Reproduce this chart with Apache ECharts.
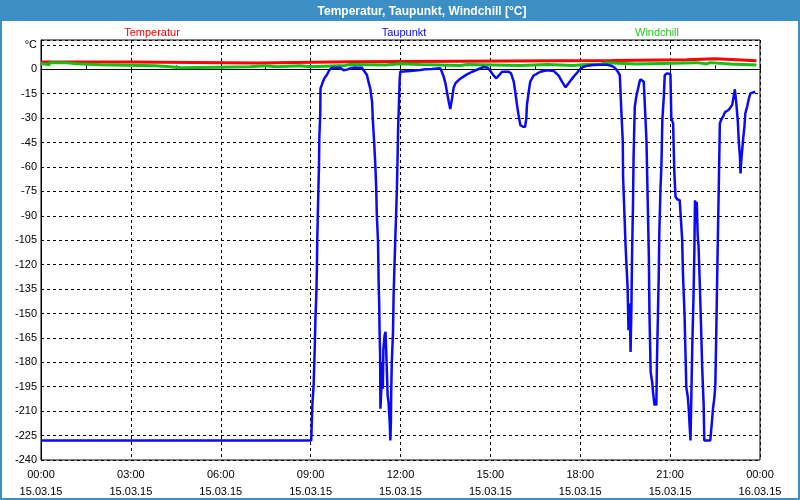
<!DOCTYPE html>
<html>
<head>
<meta charset="utf-8">
<script src="https://cdn.jsdelivr.net/npm/echarts@6/dist/echarts.min.js"></script>
<style>html,body{margin:0;padding:0;background:#fff}#c{width:800px;height:500px}</style>
</head>
<body>
<div id="c"></div>
<script>
// Hours since 15.03.15 00:00, values in °C
var seriesNames = ['Temperatur', 'Taupunkt', 'Windchill'];
var xTickHours = [0, 3, 6, 9, 12, 15, 18, 21, 24];
var yTickLabelTop = '°C';

var temperatur = [[0,4.5],[3.0,3.9],[7.2,4.7],[10.35,5.4],[19.05,5.9],[21.55,6.5],[22.5,5.9],[23.2,5.3],[23.88,5.3]];

var windchill = [[0,3.4],[0.08,2.8],[0.28,4.1],[0.8,3.4],[1.19,2.8],[1.97,2.2],[3.81,1.6],[4.31,1.0],[4.7,1.6],
  [6.98,2.2],[7.48,1.6],[7.87,2.2],[8.65,1.6],[8.98,2.4],[10.15,3.0],[10.32,2.6],[11.49,3.4],[12.0,3.0],
  [12.66,2.4],[13.99,3.0],[14.23,2.4],[16.0,3.0],[16.9,2.4],[17.77,3.0],[18.17,3.3],[18.7,4.1],[18.87,3.3],
  [19.87,4.1],[21.91,3.3],[22.21,4.1],[22.34,3.3],[23.01,2.6],[23.88,2.6]];

var taupunkt = [[0,-228],[9.02,-228],[9.04,-216.7],[9.06,-205.4],[9.1,-194.2],[9.12,-181.9],[9.14,-169.6],[9.16,-153.2],
  [9.19,-138.8],[9.21,-122.4],[9.22,-106],[9.24,-89.6],[9.26,-73.2],[9.28,-58.9],[9.29,-42.4],[9.32,-28.1],[9.33,-11.7],
  [9.37,-9.7],[9.41,-7.6],[9.46,-5.5],[9.54,-3.5],[9.63,-0.4],[9.71,1.0],[9.99,1.0],[10.1,-0.6],[10.21,-0.2],[10.32,0.6],
  [10.43,1.0],[10.71,1.0],[10.77,0.2],[10.88,-3.5],[10.93,-7.6],[10.99,-11.7],[11.05,-19.9],[11.08,-32.2],[11.12,-44.5],
  [11.16,-58.9],[11.19,-73.2],[11.21,-89.6],[11.25,-106],[11.27,-130.6],[11.29,-145],[11.3,-159.3],[11.32,-175.7],
  [11.33,-208.5],[11.36,-196.2],[11.38,-179.8],[11.41,-196.2],[11.43,-171.6],[11.47,-163.4],[11.5,-161.3],[11.52,-171.6],
  [11.55,-188],[11.57,-200.3],[11.6,-204.4],[11.64,-216.7],[11.66,-228],[11.68,-216.7],[11.69,-198.3],[11.71,-179.8],
  [11.75,-161.3],[11.77,-138.8],[11.8,-120.4],[11.83,-101.9],[11.86,-85.5],[11.88,-73.2],[11.9,-56.8],[11.92,-36.3],
  [11.95,-19.9],[11.97,-7.6],[11.99,-1.5],[12.33,-1.0],[12.66,-0.4],[12.83,0.0],[13.05,0.2],[13.33,0.6],[13.38,-1.5],
  [13.44,-4.5],[13.5,-8.6],[13.55,-13.8],[13.61,-19.9],[13.66,-24.4],[13.72,-17.9],[13.77,-11.7],[13.83,-8.6],[13.94,-6.6],
  [14.05,-5.1],[14.22,-3.1],[14.39,-1.5],[14.61,0.2],[14.77,1.4],[14.91,1.0],[15.0,-1.0],[15.11,-3.9],[15.2,-5.5],
  [15.28,-3.9],[15.39,-1.5],[15.61,-1.5],[15.69,-2.5],[15.78,-7.6],[15.83,-13.8],[15.89,-22],[15.94,-28.1],[16.0,-34.3],
  [16.09,-35.3],[16.16,-35.3],[16.2,-30.1],[16.22,-22],[16.28,-13.8],[16.33,-7.6],[16.44,-3.9],[16.67,-1.5],[16.89,-0.6],
  [17.11,-1.0],[17.28,-3.9],[17.39,-7.6],[17.51,-11.1],[17.61,-8.6],[17.78,-4.5],[18.0,0.2],[18.11,1.6],[18.23,2.2],
  [18.45,2.6],[18.67,2.8],[18.89,2.8],[19.06,2.0],[19.17,0.6],[19.25,-1.4],[19.32,-3.5],[19.36,-4.5],[19.37,-25],
  [19.42,-44.5],[19.43,-66],[19.47,-86.5],[19.51,-107],[19.54,-119.3],[19.58,-133.7],[19.61,-160.3],[19.65,-143.9],
  [19.68,-173.7],[19.71,-143.9],[19.73,-113.2],[19.76,-83.5],[19.78,-53.7],[19.82,-23],[19.87,-16.8],[19.92,-12.7],
  [19.98,-7.6],[20.01,-6.2],[20.12,-7.6],[20.17,-8.6],[20.21,-43.5],[20.25,-79.3],[20.29,-115.2],[20.31,-150.1],
  [20.35,-186],[20.4,-192.1],[20.43,-198.3],[20.48,-206.5],[20.51,-202.4],[20.54,-206.5],[20.56,-179.8],[20.59,-153.2],
  [20.62,-126.5],[20.64,-99.9],[20.68,-72.2],[20.71,-58.9],[20.74,-31.2],[20.79,-16.8],[20.82,-3.5],[20.9,-2.5],
  [21.01,-2.9],[21.04,-30.1],[21.1,-33.2],[21.14,-63],[21.18,-78.3],[21.23,-79.8],[21.32,-80.4],[21.37,-81.4],
  [21.4,-104],[21.43,-126.5],[21.48,-150.1],[21.51,-172.6],[21.54,-195.2],[21.59,-201.3],[21.62,-208.5],[21.66,-221.9],
  [21.68,-228],[21.71,-199.3],[21.74,-169.6],[21.78,-139.8],[21.81,-111.1],[21.83,-80.4],[21.85,-94.7],[21.89,-81.4],
  [21.92,-101.9],[21.95,-109.1],[21.99,-131.6],[22.03,-156.2],[22.07,-182.9],[22.12,-206.5],[22.14,-228],[22.34,-228],
  [22.4,-215.7],[22.43,-208.5],[22.48,-201.3],[22.51,-193.1],[22.54,-162.4],[22.57,-128.5],[22.6,-96.8],[22.63,-66],
  [22.66,-33.2],[22.73,-30.1],[22.79,-28.1],[22.84,-26.1],[22.95,-25],[23.01,-24],[23.07,-22],[23.12,-16.8],[23.16,-12.3],
  [23.19,-11.7],[23.21,-20.9],[23.26,-32.2],[23.29,-43.5],[23.33,-53.7],[23.35,-64],[23.38,-54.7],[23.41,-53.7],
  [23.44,-42.4],[23.48,-35.3],[23.51,-27.1],[23.57,-23],[23.63,-17.8],[23.68,-14.8],[23.73,-13.8],[23.84,-13.8]];

var colors = ['#ff0000', '#0a0af5', '#12c012'];
var font = '"Liberation Sans", Arial, sans-serif';

function pad(n){ return (n < 10 ? '0' : '') + n; }

var chart = echarts.init(document.getElementById('c'), null, {renderer: 'canvas'});
chart.setOption({
  animation: false,
  backgroundColor: '#3c8fc5',
  graphic: [
    {type: 'rect', z: -100, silent: true, shape: {x: 2, y: 21, width: 796, height: 477}, style: {fill: '#ffffff'}}
  ],
  title: [
    {text: 'Temperatur, Taupunkt, Windchill [°C]', left: 417, top: 1, textAlign: 'center',
     textStyle: {color: '#ffffff', fontFamily: font, fontSize: 12, fontWeight: 'bold'}},
    {text: seriesNames[0], left: 147, top: 22, textAlign: 'center', textStyle: {color: colors[0], fontFamily: font, fontSize: 11, fontWeight: 'normal'}},
    {text: seriesNames[1], left: 399, top: 22, textAlign: 'center', textStyle: {color: colors[1], fontFamily: font, fontSize: 11, fontWeight: 'normal'}},
    {text: seriesNames[2], left: 652, top: 22, textAlign: 'center', textStyle: {color: '#22cc22', fontFamily: font, fontSize: 11, fontWeight: 'normal'}}
  ],
  grid: {left: 41, right: 40, top: 40, bottom: 40, show: true, borderColor: '#000', borderWidth: 1,
         backgroundColor: 'transparent', outerBoundsMode: 'none', containLabel: false},
  xAxis: {
    type: 'value', min: 0, max: 24, interval: 3,
    axisLine: {show: true, lineStyle: {color: '#000', width: 1}},
    axisTick: {show: true, inside: true, length: 4, lineStyle: {color: '#000'}},
    minorTick: {show: true, splitNumber: 2, length: 4, lineStyle: {color: '#000'}},
    splitLine: {show: true, lineStyle: {color: '#000', type: [3, 3], width: 1}},
    axisLabel: {
      color: '#000', fontFamily: font, fontSize: 11, margin: 6, lineHeight: 17,
      showMinLabel: true, showMaxLabel: true,
      formatter: function (v) {
        if (xTickHours.indexOf(v) < 0) return '';
        return pad(v % 24) + ':00\n' + (v < 24 ? '15.03.15' : '16.03.15');
      }
    }
  },
  yAxis: {
    type: 'value', min: -240, max: 18, interval: 15,
    axisLine: {show: true, lineStyle: {color: '#000', width: 1}},
    axisTick: {show: false},
    splitLine: {show: true, lineStyle: {color: '#000', type: [3, 3], width: 1}},
    axisLabel: {
      color: '#000', fontFamily: font, fontSize: 11, margin: 4,
      showMaxLabel: true,
      formatter: function (v) {
        if (v === 15) return yTickLabelTop;
        if (v > 15) return '';
        return String(v);
      }
    }
  },
  series: [
    {name: seriesNames[0], type: 'line', data: temperatur, step: 'end', showSymbol: false, symbol: 'none',
     lineStyle: {color: colors[0], width: 3}, z: 2},
    {name: seriesNames[2], type: 'line', data: windchill, step: 'end', showSymbol: false, symbol: 'none',
     lineStyle: {color: colors[2], width: 3}, z: 3},
    {name: seriesNames[1], type: 'line', data: taupunkt, showSymbol: false, symbol: 'none',
     lineStyle: {color: colors[1], width: 2.5}, z: 4}
  ]
});
</script>
</body>
</html>
